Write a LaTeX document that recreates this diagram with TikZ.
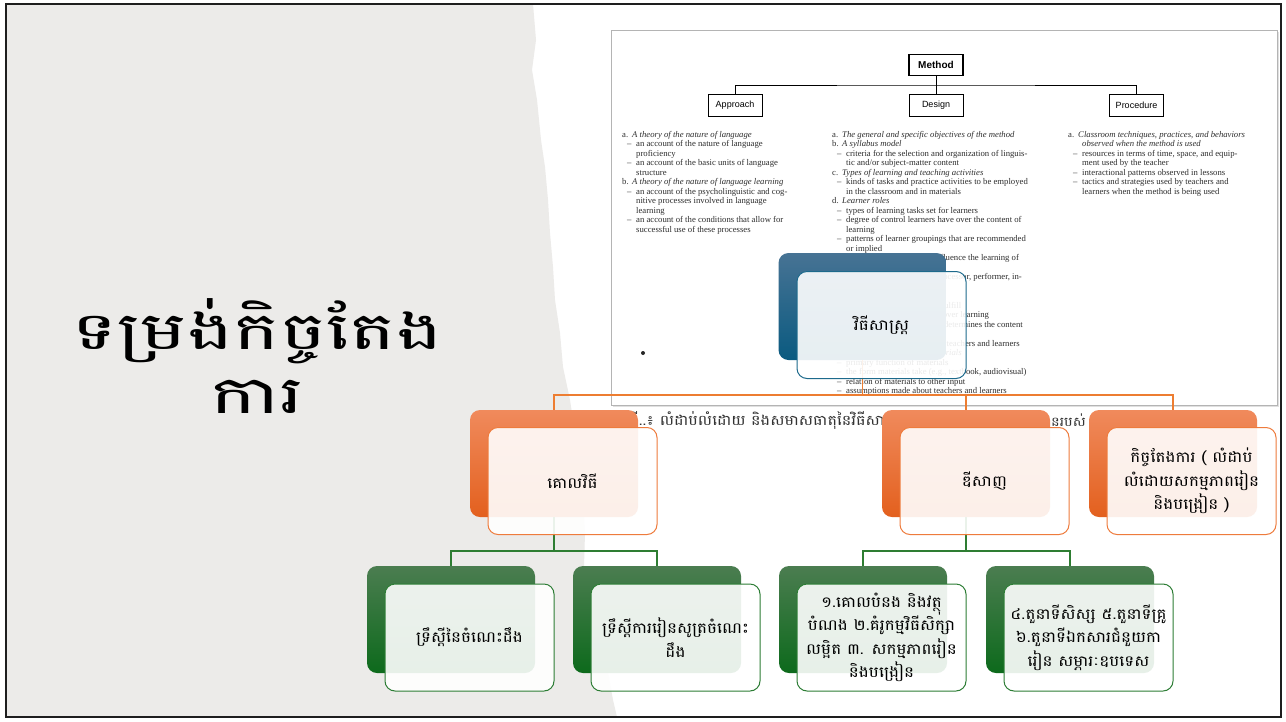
\documentclass[tikz,border=0pt]{standalone}
\usepackage{fontspec}
\setmainfont{Liberation Serif}
\newfontfamily\kh[Script=Khmer, FakeStretch=1.12]{Battambang}
\newfontfamily\khT[Script=Khmer, FakeStretch=1.5]{Battambang}
\newfontfamily\hv{Liberation Sans}
\definecolor{slidegray}{HTML}{ECEBE9}
\definecolor{framecol}{HTML}{1E1E1E}
\definecolor{scanedge}{HTML}{B4B4B4}
\definecolor{scanink}{HTML}{2E2E2E}
\definecolor{bluetop}{HTML}{477394}
\definecolor{bluebot}{HTML}{0A5A80}
\definecolor{blueedge}{HTML}{1D6A8C}
\definecolor{orgtop}{HTML}{F08A5C}
\definecolor{orgbot}{HTML}{E3601E}
\definecolor{orgedge}{HTML}{EE7B3C}
\definecolor{grntop}{HTML}{4B7D50}
\definecolor{grnbot}{HTML}{0D6A1C}
\definecolor{grnedge}{HTML}{2D7D35}
\definecolor{oline}{HTML}{ED7D31}
\definecolor{gline}{HTML}{2E7D32}
\newcommand{\scItem}[2]{\makebox[10pt][l]{#1}\textit{#2}}
\newcommand{\scDash}[1]{\hspace*{5pt}\makebox[9pt][l]{–}#1}
\newcommand{\scCont}[1]{\hspace*{14pt}#1}
\tikzset{
  scantext/.style={anchor=north west, inner sep=0pt, align=left, font=\fontsize{8.7}{9.5}\selectfont, text=scanink},
  mbox/.style={draw=black, line width=0.9pt, minimum width=54pt, minimum height=22pt, inner sep=0pt, fill=white, font=\hv\fontsize{9}{10}\selectfont},
  mline/.style={draw=black, line width=0.9pt},
  bbox/.style={rectangle, rounded corners=10pt, minimum width=168pt, minimum height=107pt, inner sep=0pt},
  fbox/.style={rectangle, rounded corners=10pt, minimum width=169pt, minimum height=107pt, inner sep=2pt, line width=1pt, fill=white, fill opacity=0.9, text opacity=1, align=center, font=\kh\fontsize{15}{23.5}\selectfont, text=black},
  ocon/.style={draw=oline, line width=1.8pt},
  gcon/.style={draw=gline, line width=1.8pt},
  captext/.style={anchor=west, inner sep=0pt, text=black!80, font=\kh\fontsize{14.3}{16}\selectfont},
}
\begin{document}
\begin{tikzpicture}[x=1pt,y=-1pt]
\useasboundingbox (0,0) rectangle (1286,721);
\fill[white] (0,0) rectangle (1286,721);
% torn grey background
\fill[slidegray] (6,4) -- (533,4) -- (536,40) -- (532,70) -- (537,100) -- (541,140) -- (545,167) -- (548,200) -- (550,233) -- (553,267) -- (555,300) -- (560,333) -- (563,367) -- (570,400) -- (575,433) -- (578,467) -- (583,500) -- (585,533) -- (584,567) -- (590,600) -- (600,633) -- (607,667) -- (613,700) -- (617,717) -- (6,717) -- cycle;
% title
\node[align=center, inner sep=0pt, font=\khT\fontsize{52}{64}\selectfont] (title) at (257,356) {ទម្រង់កិច្ចតែង\\ការ};
% scanned figure
\fill[black!12] (613,32) rectangle (1279,407);
\draw[fill=white, draw=scanedge, line width=0.8pt] (611,30) rectangle (1277,405);
\node[mbox, font=\hv\bfseries\fontsize{10}{11}\selectfont, line width=1.3pt, minimum height=21pt] (meth) at (936,65) {Method};
\node[mbox] (appr) at (735,105.5) {Approach};
\node[mbox] (desi) at (936,105.5) {Design};
\node[mbox] (proc) at (1136.5,105.5) {Procedure};
\coordinate (mj) at (936,85);
\draw[mline] (meth.south) -- (mj);
\draw[mline] (appr.north) |- (mj) -| (proc.north);
\draw[mline] (desi.north) -- (desi.north |- mj);
\node[scantext] (colA) at (622,131) {%
\scItem{a.}{A theory of the nature of language}\\
\scDash{an account of the nature of language}\\
\scCont{proficiency}\\
\scDash{an account of the basic units of language}\\
\scCont{structure}\\
\scItem{b.}{A theory of the nature of language learning}\\
\scDash{an account of the psycholinguistic and cog-}\\
\scCont{nitive processes involved in language}\\
\scCont{learning}\\
\scDash{an account of the conditions that allow for}\\
\scCont{successful use of these processes}};
\node[scantext] (colB) at (832,131) {%
\scItem{a.}{The general and specific objectives of the method}\\
\scItem{b.}{A syllabus model}\\
\scDash{criteria for the selection and organization of linguis-}\\
\scCont{tic and/or subject-matter content}\\
\scItem{c.}{Types of learning and teaching activities}\\
\scDash{kinds of tasks and practice activities to be employed}\\
\scCont{in the classroom and in materials}\\
\scItem{d.}{Learner roles}\\
\scDash{types of learning tasks set for learners}\\
\scDash{degree of control learners have over the content of}\\
\scCont{learning}\\
\scDash{patterns of learner groupings that are recommended}\\
\scCont{or implied}\\
\scDash{degree to which learners influence the learning of}\\
\scCont{others}\\
\scDash{the view of the learner as processor, performer, in-}\\
\scCont{itiator, problem solver, etc.}\\
\scItem{e.}{Teacher roles}\\
\scDash{types of functions teachers fulfill}\\
\scDash{degree of teacher influence over learning}\\
\scDash{degree to which the teacher determines the content}\\
\scCont{of learning}\\
\scDash{types of interaction between teachers and learners}\\
\scItem{f.}{The role of instructional materials}\\
\scDash{primary function of materials}\\
\scDash{the form materials take (e.g., textbook, audiovisual)}\\
\scDash{relation of materials to other input}\\
\scDash{assumptions made about teachers and learners}};
\node[scantext] (colC) at (1068,131) {%
\scItem{a.}{Classroom techniques, practices, and behaviors}\\
\scCont{\textit{observed when the method is used}}\\
\scDash{resources in terms of time, space, and equip-}\\
\scCont{ment used by the teacher}\\
\scDash{interactional patterns observed in lessons}\\
\scDash{tactics and strategies used by teachers and}\\
\scCont{learners when the method is being used}};
\fill[black!85] (643,353) circle (2pt);
% caption (partly hidden)
\node[captext] (cap1) at (629,420) {ទី..៖ លំដាប់លំដោយ និងសមាសធាតុនៃវិធីសាស្ត្រ};
\node[captext, font=\kh\fontsize{13}{15}\selectfont] (cap2) at (1051,420) {នរបស់};
% back boxes
\node[bbox, top color=bluetop, bottom color=bluebot] (rb) at (862.5,306.5) {};
\node[bbox, top color=orgtop, bottom color=orgbot] (ab) at (554,463.5) {};
\node[bbox, top color=orgtop, bottom color=orgbot] (bb) at (966,463.5) {};
\node[bbox, top color=orgtop, bottom color=orgbot] (cb) at (1173,463.5) {};
\node[bbox, top color=grntop, bottom color=grnbot] (db) at (451,619.5) {};
\node[bbox, top color=grntop, bottom color=grnbot] (eb) at (657,619.5) {};
\node[bbox, top color=grntop, bottom color=grnbot] (fb) at (863,619.5) {};
\node[bbox, top color=grntop, bottom color=grnbot] (gb) at (1070,619.5) {};
% connectors
\coordinate (j1) at (862.5,395);
\coordinate (j2) at (554,551);
\coordinate (j3) at (966,551);
\draw[ocon] (rb.south) -- (j1);
\draw[ocon] (ab.north) |- (j1) -| (cb.north);
\draw[ocon] (bb.north) -- (bb.north |- j1);
\draw[gcon] (ab.south) -- (j2);
\draw[gcon] (db.north) |- (j2) -| (eb.north);
\draw[gcon] (bb.south) -- (j3);
\draw[gcon] (fb.north) |- (j3) -| (gb.north);
% front boxes
\node[fbox, draw=blueedge] (rf) at (881.5,325) {វិធីសាស្ត្រ};
\node[fbox, draw=orgedge] (af) at (572.5,481) {គោលវិធី};
\node[fbox, draw=orgedge] (bf) at (984.5,481) {ឌីសាញ};
\node[fbox, draw=orgedge] (cf) at (1191.5,481) {កិច្ចតែងការ ( លំដាប់\\លំដោយសកម្មភាពរៀន\\និងបង្រៀន )};
\node[fbox, draw=grnedge] (df) at (469.5,637.5) {ទ្រឹស្តីនៃចំណេះដឹង};
\node[fbox, draw=grnedge] (ef) at (675.5,637.5) {ទ្រឹស្តីការរៀនសូត្រចំណេះ\\ដឹង};
\node[fbox, draw=grnedge] (ff) at (881.5,637.5) {១.គោលបំនង និងវត្ថុ\\បំណង ២.គំរូកម្មវិធីសិក្សា\\លម្អិត ៣. សកម្មភាពរៀន\\និងបង្រៀន};
\node[fbox, draw=grnedge] (gf) at (1088.5,637.5) {៤.តួនាទីសិស្ស ៥.តួនាទីគ្រូ\\៦.តួនាទីឯកសារជំនួយកា\\រៀន សម្ភារៈឧបទេស};
% slide frame
\draw[framecol, line width=2pt] (6,4) rectangle (1281,717);
\end{tikzpicture}
\end{document}
